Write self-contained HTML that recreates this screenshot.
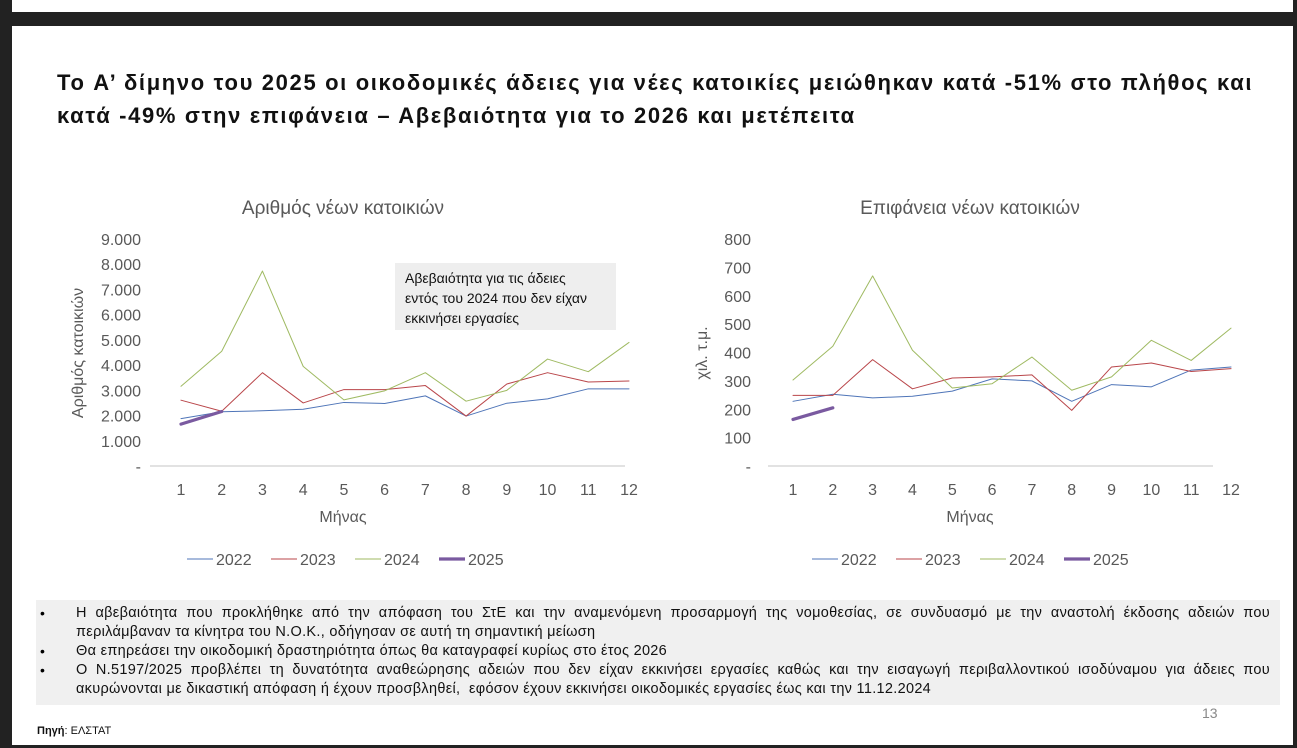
<!DOCTYPE html>
<html><head><meta charset="utf-8">
<style>
body{margin:0;width:1297px;height:748px;overflow:hidden;background:#fff;font-family:"Liberation Sans","Noto Sans CJK SC",sans-serif;position:relative}
.abs{position:absolute}
#title{left:57px;top:66px;width:1230px;font-size:22px;font-weight:bold;color:#111;line-height:33px;letter-spacing:1.65px;white-space:nowrap}
#notes{left:36px;top:600px;width:1244px;height:105px;background:#f0f0f0}
#notes .ln{position:absolute;left:40px;width:1194px;font-size:14.5px;letter-spacing:0.3px;line-height:19px;color:#111;white-space:nowrap}
#notes .j{text-align:justify;text-align-last:justify;white-space:normal}
#notes .b{position:absolute;left:4px;font-size:14px;line-height:19px}
</style></head><body>
<div class="abs" style="left:0;top:0;width:12px;height:748px;background:#222"></div>
<div class="abs" style="left:0;top:12px;width:1297px;height:14px;background:#222"></div>
<div class="abs" style="left:1293px;top:0;width:4px;height:748px;background:#222"></div>
<div class="abs" style="left:0;top:745px;width:1297px;height:3px;background:#222"></div>

<div id="title" class="abs">Το A’ δίμηνο του 2025 οι οικοδομικές άδειες για νέες κατοικίες μειώθηκαν κατά -51% στο πλήθος και<br>κατά -49% στην επιφάνεια – Αβεβαιότητα για το 2026 και μετέπειτα</div>

<svg class="abs" style="left:0;top:0" width="1297" height="600" id="charts"></svg>

<div class="abs" style="left:395px;top:263px;width:221px;height:67px;background:#eeeeee;font-size:14px;line-height:20px;color:#111;padding:5px 0 0 10px;box-sizing:border-box;white-space:nowrap">Αβεβαιότητα για τις άδειες<br>εντός του 2024 που δεν είχαν<br>εκκινήσει εργασίες</div>

<div id="notes" class="abs">
<div class="b" style="top:4px">•</div><div class="b" style="top:42px">•</div><div class="b" style="top:61px">•</div>
<div class="ln j" style="top:4px">Η αβεβαιότητα που προκλήθηκε από την απόφαση του ΣτΕ και την αναμενόμενη προσαρμογή της νομοθεσίας, σε συνδυασμό με την αναστολή έκδοσης αδειών που</div>
<div class="ln" style="top:23px">περιλάμβαναν τα κίνητρα του Ν.Ο.Κ., οδήγησαν σε αυτή τη σημαντική μείωση</div>
<div class="ln" style="top:42px">Θα επηρεάσει την οικοδομική δραστηριότητα όπως θα καταγραφεί κυρίως στο έτος 2026</div>
<div class="ln j" style="top:61px">Ο Ν.5197/2025 προβλέπει τη δυνατότητα αναθεώρησης αδειών που δεν είχαν εκκινήσει εργασίες καθώς και την εισαγωγή περιβαλλοντικού ισοδύναμου για άδειες που</div>
<div class="ln" style="top:80px">ακυρώνονται με δικαστική απόφαση ή έχουν προσβληθεί,&nbsp; εφόσον έχουν εκκινήσει οικοδομικές εργασίες έως και την 11.12.2024</div>
</div>
<div class="abs" style="left:1202px;top:705px;font-size:14px;color:#888">13</div>
<div class="abs" style="left:37px;top:725px;font-size:11px;color:#111"><b>Πηγή</b>: ΕΛΣΤΑΤ</div>

<script>
const months=[1,2,3,4,5,6,7,8,9,10,11,12];
const seriesNames=["2022","2023","2024","2025"];
const countTicks=["-","1.000","2.000","3.000","4.000","5.000","6.000","7.000","8.000","9.000"];
const count2022=[1880,2150,2190,2250,2520,2480,2780,1980,2490,2660,3060,3060];
const count2023=[2610,2170,3700,2500,3030,3030,3190,1980,3250,3700,3330,3370];
const count2024=[3160,4550,7730,3950,2620,2980,3700,2570,3000,4240,3740,4900];
const count2025=[1660,2160];
const areaTicks=["-","100","200","300","400","500","600","700","800"];
const area2022=[228,253,240,246,264,307,300,228,287,279,338,349];
const area2023=[249,249,375,272,310,314,321,196,349,363,333,343];
const area2024=[303,422,670,408,275,290,384,267,314,443,372,486];
const area2025=[164,205];

const NS="http://www.w3.org/2000/svg";
const svg=document.getElementById('charts');
const colors=["#4f75b8","#b9464a","#9fba62","#7a5aa0"];
const widths=[1,1,1,3.2];
function mk(tag,attrs,parent){const e=document.createElementNS(NS,tag);for(const k in attrs)e.setAttribute(k,attrs[k]);(parent||svg).appendChild(e);return e;}

function chart(cfg){
  const g=mk('g',{});
  
  
  const x=m=>cfg.x1+(m-1)*(cfg.x12-cfg.x1)/11;
  const y=v=>cfg.y0-(v/cfg.max)*(cfg.y0-cfg.ytop);
  const t=mk('text',{x:cfg.tx,y:214,'font-size':19,fill:'#595959','text-anchor':'middle'},g);t.textContent=cfg.title;
  
  
  cfg.ticks.forEach((lab,i)=>{
    const v=i*cfg.max/(cfg.ticks.length-1);
    const tt=mk('text',{x:cfg.tickX,y:y(v)+6,'font-size':16,fill:'#595959','text-anchor':'end'},g);tt.textContent=lab;
    
    
  });
  const ax=mk('line',{x1:cfg.axL,x2:cfg.axR,y1:cfg.y0,y2:cfg.y0,stroke:'#d9d9d9','stroke-width':1.5},g);
  
  
  months.forEach(m=>{
    const tt=mk('text',{x:x(m),y:495,'font-size':16,fill:'#595959','text-anchor':'middle'},g);tt.textContent=m;
    
    
  });
  const xt=mk('text',{x:cfg.tx,y:522,'font-size':16,fill:'#595959','text-anchor':'middle'},g);xt.textContent='Μήνας';
  
  
  const yt=mk('text',{x:0,y:0,'font-size':16,fill:'#595959','text-anchor':'middle',transform:`translate(${cfg.ytX},${cfg.ytY}) rotate(-90)`},g);yt.textContent=cfg.ytitle;
  
  
  cfg.series.forEach((s,i)=>{
    const p=mk('polyline',{points:s.map((v,j)=>x(months[j])+','+y(v)).join(' '),fill:'none',stroke:colors[i],'stroke-width':widths[i],'stroke-linejoin':'round','stroke-linecap':'round'},g);
    
    
  });
  seriesNames.forEach((n,i)=>{
    const lx=cfg.legX+i*84;
    const lg=mk('g',{},g);
    
    
    mk('line',{x1:lx,x2:lx+26,y1:559,y2:559,stroke:colors[i],'stroke-width':widths[i]},lg);
    const lt=mk('text',{x:lx+29,y:565,'font-size':16,fill:'#595959'},lg);lt.textContent=n;
  });
}
chart({name:'dwellings-count-chart',title:'Αριθμός νέων κατοικιών',tx:343,x1:181,x12:629,y0:466,ytop:239,max:9000,ticks:countTicks,tickX:141,axL:150,axR:625,ytitle:'Αριθμός κατοικιών',ytX:83,ytY:353,legX:187,series:[count2022,count2023,count2024,count2025]});
chart({name:'dwellings-area-chart',title:'Επιφάνεια νέων κατοικιών',tx:970,x1:793,x12:1231,y0:466,ytop:239,max:800,ticks:areaTicks,tickX:751,axL:768,axR:1213,ytitle:'χιλ. τ.μ.',ytX:707,ytY:353,legX:812,series:[area2022,area2023,area2024,area2025]});
</script>
</body></html>
